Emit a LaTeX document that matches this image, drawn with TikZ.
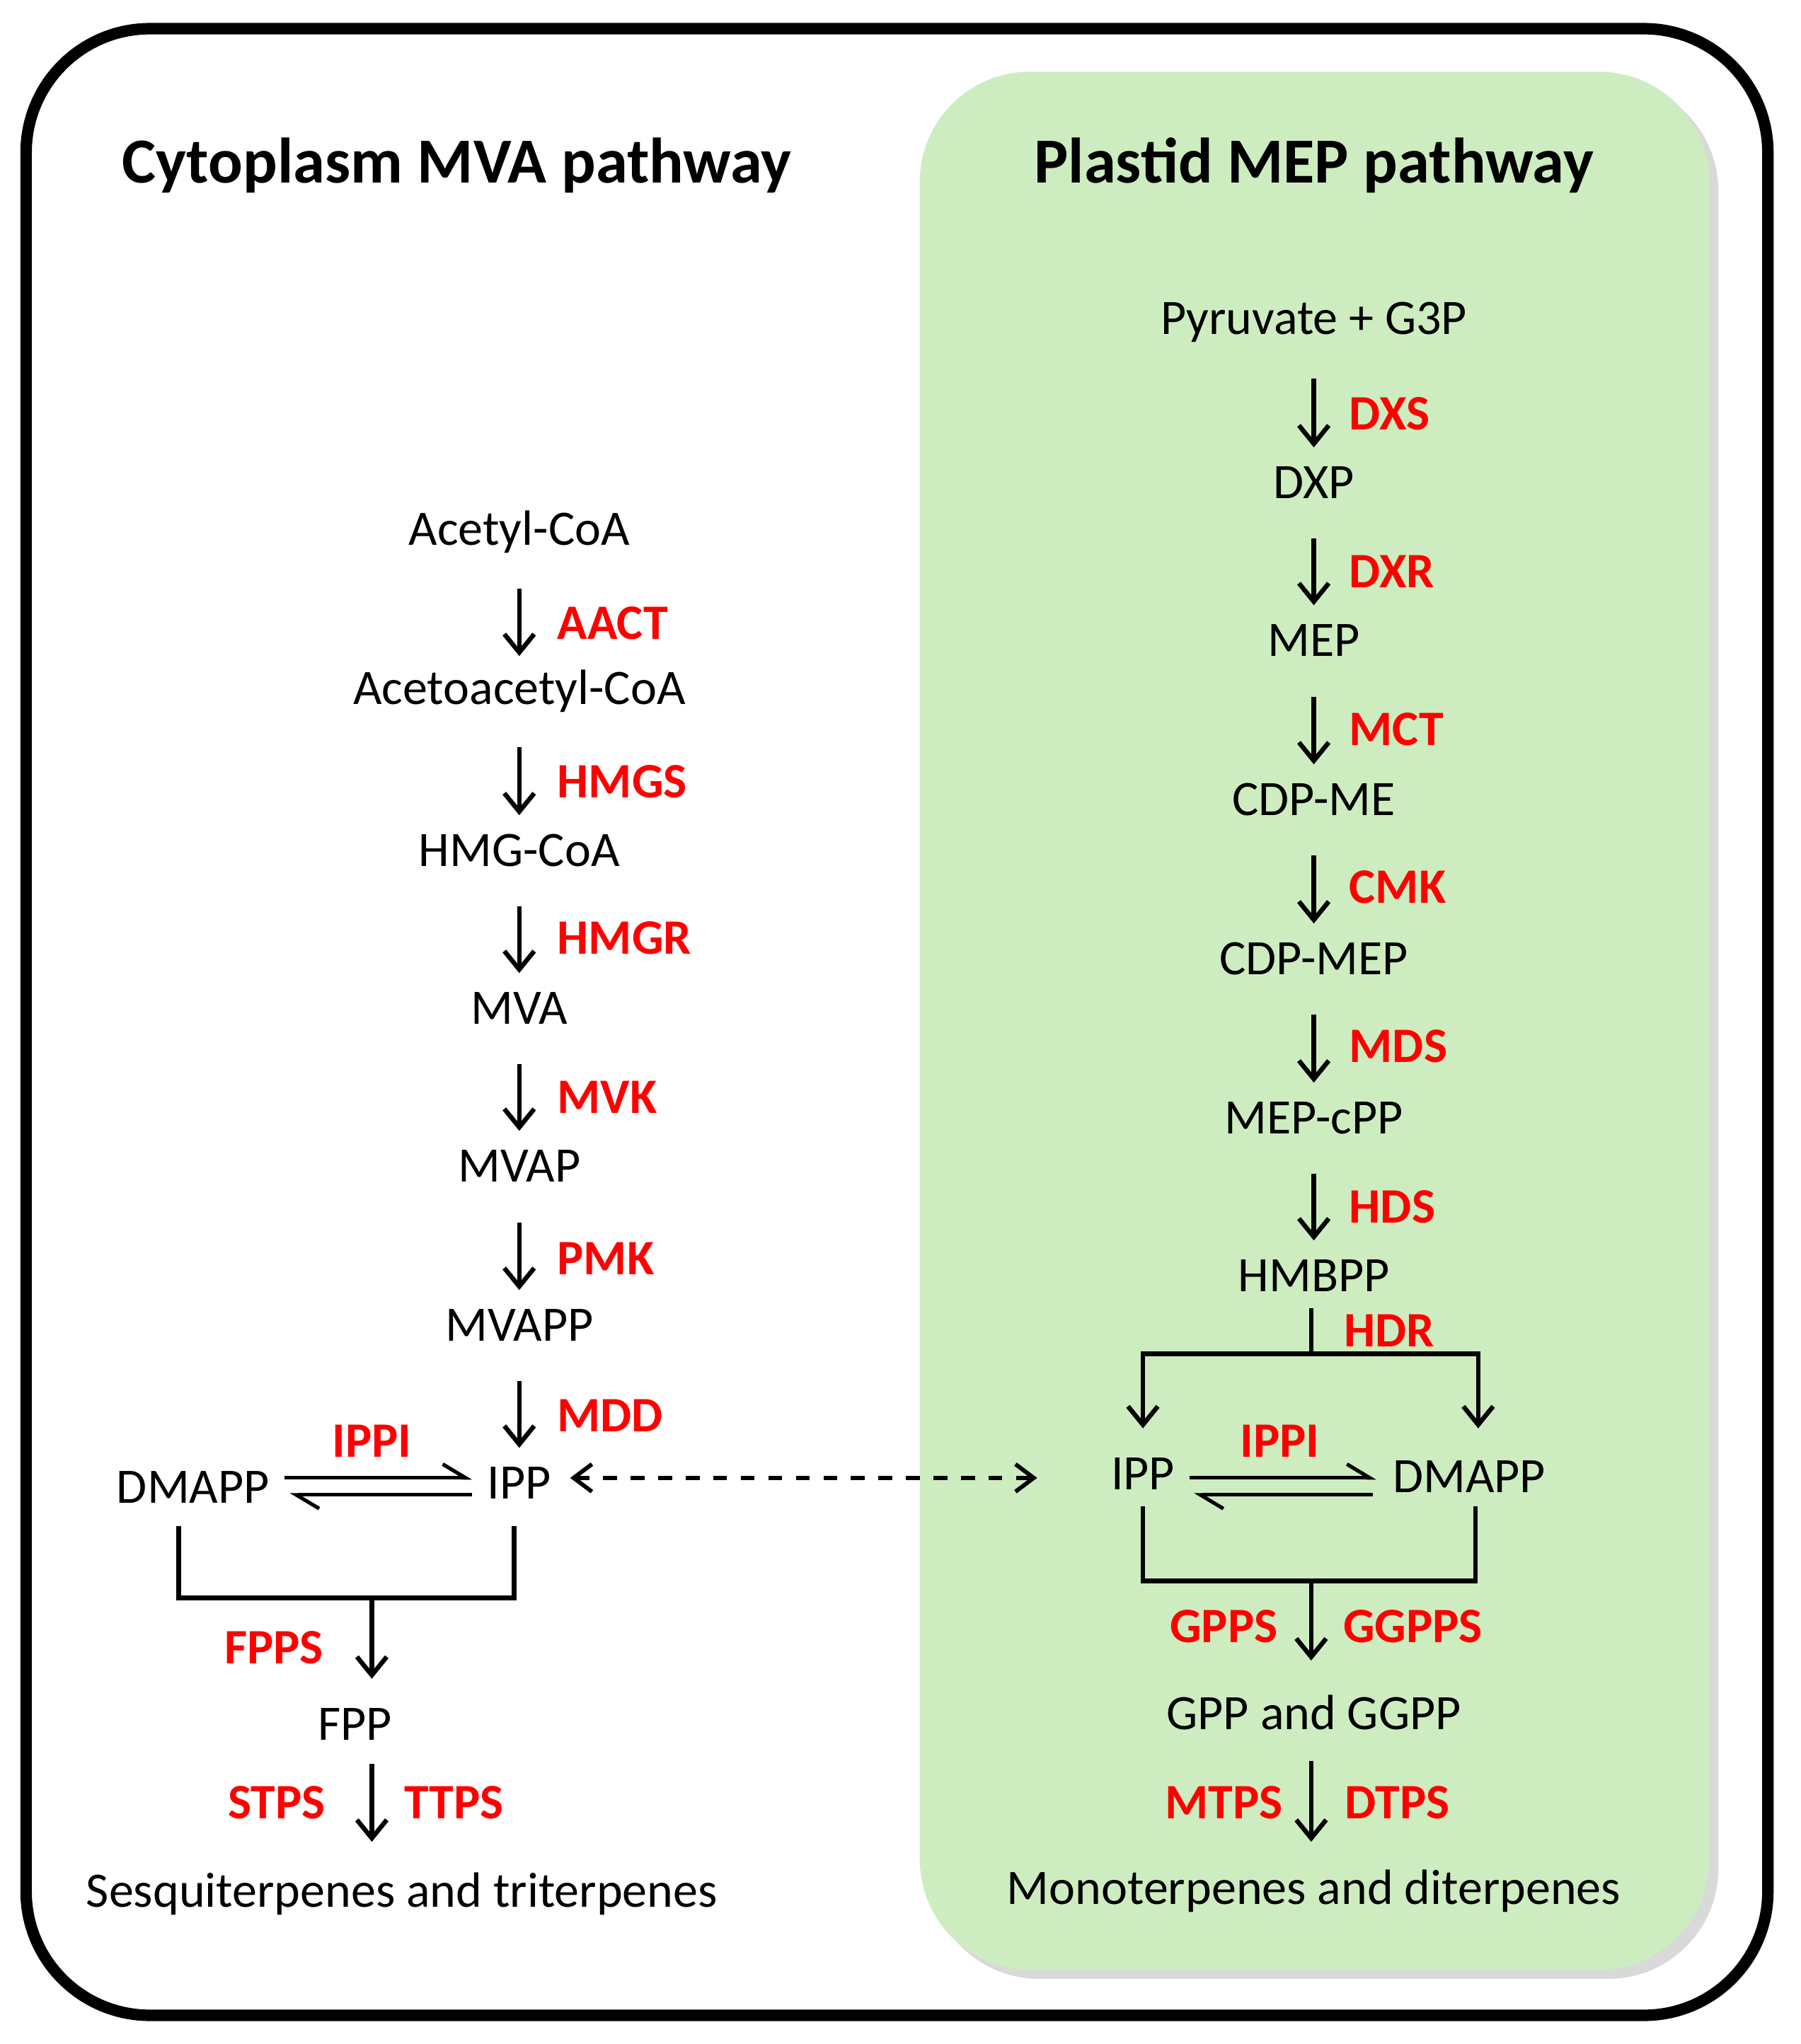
\documentclass[tikz,border=0pt]{standalone}
\usepackage{fontspec}
\setmainfont{Carlito}
\usetikzlibrary{arrows.meta,shadows}
\definecolor{panel}{HTML}{CDEDC1}
\definecolor{lab}{HTML}{FF0000}
\begin{document}
\begin{tikzpicture}[x=0.01cm,y=-0.01cm,
  met/.style={font=\fontsize{10.8pt}{12pt}\selectfont, inner sep=1pt},
  enz/.style={font=\fontsize{10.8pt}{12pt}\selectfont\bfseries, text=lab, inner sep=1pt},
  ttl/.style={font=\fontsize{14pt}{16pt}\selectfont\bfseries},
  arr/.style={line width=1pt, -{Straight Barb[length=4pt,width=6.5pt]}},
  ln/.style={line width=1pt},
  harpT/.style={line width=0.8pt, -{Straight Barb[left,length=5pt,width=6pt]}},
  harpB/.style={line width=0.8pt, {Straight Barb[left,length=5pt,width=6pt]}-}]
\useasboundingbox (0,0) rectangle (1380,1567);
\draw[line width=2.5pt, rounded corners=27pt] (20,22) rectangle (1355,1545);
\fill[panel, rounded corners=24pt, drop shadow={shadow xshift=2pt,shadow yshift=-2pt,opacity=0.3}] (705,55) rectangle (1310,1510);
\node[ttl] (t1) at (350,127) {Cytoplasm MVA pathway};
\node[ttl] (t2) at (1007,127) {Plastid MEP pathway};
% MVA
\node[met] (m1) at (398,408) {Acetyl-CoA};
\node[met] (m2) at (398,530) {Acetoacetyl-CoA};
\node[met] (m3) at (398,652) {HMG-CoA};
\node[met] (m4) at (398,773) {MVA};
\node[met] (m5) at (398,894) {MVAP};
\node[met] (m6) at (398,1016) {MVAPP};
\node[met] (ipp) at (398,1137) {IPP};
\node[met] (dma) at (148,1140) {DMAPP};
\foreach \a/\b/\e/\y in {m1/m2/AACT/478,m2/m3/HMGS/599,m3/m4/HMGR/719,m4/m5/MVK/841,m5/m6/PMK/965,m6/ipp/MDD/1085}{
  \draw[arr] ([yshift=-0.43cm]\a.center) -- ([yshift=0.27cm]\b.center);
  \node[enz, anchor=west] (e\e) at (423,\y) {\e};
}
\coordinate (l1) at (218,1133); \coordinate (l2) at (362,1133);
\coordinate (l3) at (222,1146); \coordinate (l4) at (362,1146);
\draw[harpT] (l1) -- (l2);
\draw[harpB] (l3) -- (l4);
\node[enz] (ippi1) at (285,1105) {IPPI};
\coordinate (b1) at (137,1170); \coordinate (b2) at (137,1225);
\coordinate (b3) at (394,1225); \coordinate (b4) at (394,1170);
\coordinate (bm) at (285,1225);
\draw[ln] (b1) -- (b2) -- (b3) -- (b4);
\node[met] (fpp) at (272,1322) {FPP};
\draw[arr] (bm) -- (285,1287);
\node[enz] (fpps) at (210,1263) {FPPS};
\coordinate (f1) at (285,1352);
\draw[arr] (f1) -- (285,1412);
\node[enz] (stps) at (212,1382) {STPS};
\node[enz] (ttps) at (348,1382) {TTPS};
\node[met] (sesq) at (308,1452) {Sesquiterpenes and triterpenes};
% MEP
\node[met] (p1) at (1007,247) {Pyruvate + G3P};
\node[met] (p2) at (1007,370) {DXP};
\node[met] (p3) at (1007,491) {MEP};
\node[met] (p4) at (1007,613) {CDP-ME};
\node[met] (p5) at (1007,735) {CDP-MEP};
\node[met] (p6) at (1007,857) {MEP-cPP};
\node[met] (p7) at (1007,978) {HMBPP};
\foreach \a/\b/\e/\y in {p1/p2/DXS/317,p2/p3/DXR/438,p3/p4/MCT/559,p4/p5/CMK/680,p5/p6/MDS/802,p6/p7/HDS/925}{
  \draw[arr] ([yshift=-0.43cm]\a.center) -- ([yshift=0.27cm]\b.center);
  \node[enz, anchor=west] (e\e) at (1030,\y) {\e};
}
\node[met] (ipp2) at (876,1130) {IPP};
\node[met] (dma2) at (1126,1132) {DMAPP};
\coordinate (h0) at (1005,1038);
\draw[ln] (1005,1003) -- (h0);
\draw[arr] (h0) -| (876,1095);
\draw[arr] (h0) -| (1133,1095);
\node[enz] (hdr) at (1065,1020) {HDR};
\draw[harpT] (912,1133) -- (1055,1133);
\draw[harpB] (915,1146) -- (1052,1146);
\node[enz] (ippi2) at (981,1105) {IPPI};
\coordinate (c1) at (876,1155); \coordinate (c2) at (876,1212);
\coordinate (c3) at (1131,1212); \coordinate (c4) at (1131,1155);
\coordinate (cm) at (1005,1212);
\draw[ln] (c1) -- (c2) -- (c3) -- (c4);
\node[met] (gpp) at (1007,1313) {GPP and GGPP};
\draw[arr] (cm) -- (1005,1273);
\node[enz] (gpps) at (938,1247) {GPPS};
\node[enz] (ggpps) at (1083,1247) {GGPPS};
\draw[arr] (1005,1350) -- (1005,1412);
\node[enz] (mtps) at (938,1382) {MTPS};
\node[enz] (dtps) at (1071,1382) {DTPS};
\node[met] (mono) at (1007,1450) {Monoterpenes and diterpenes};
% exchange
\coordinate (x1) at (437,1133); \coordinate (x2) at (795,1133);
\draw[line width=0.9pt, dashed, {Straight Barb[length=4pt,width=6pt]}-{Straight Barb[length=4pt,width=6pt]}] (x1) -- (x2);
\end{tikzpicture}
\end{document}
